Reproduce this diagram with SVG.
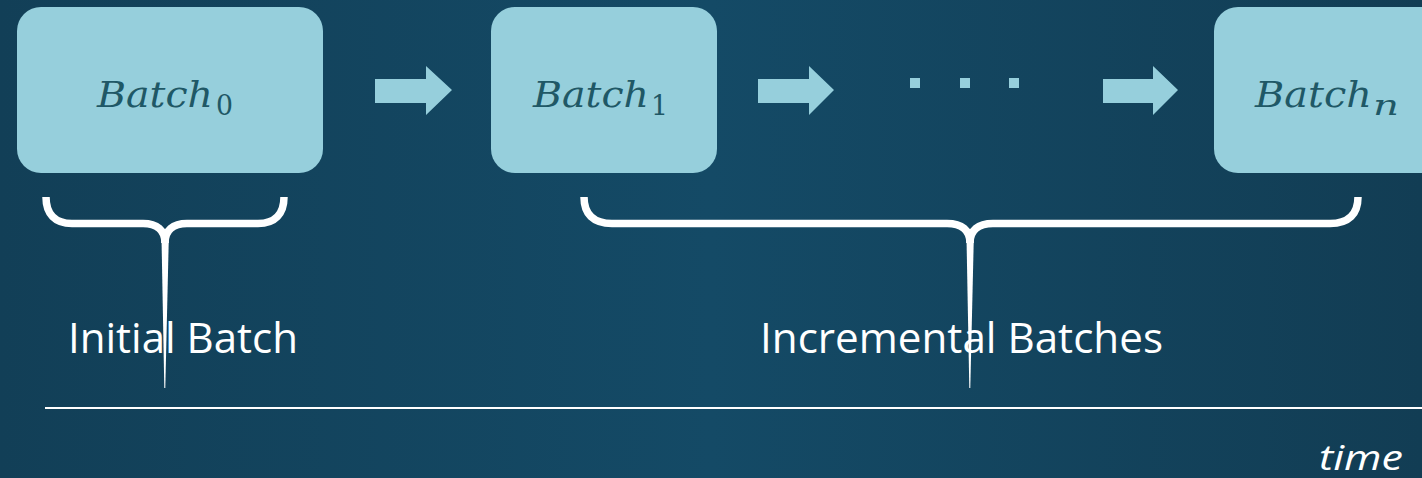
<svg xmlns="http://www.w3.org/2000/svg" width="1422" height="478" viewBox="0 0 1422 478">
<defs>
<linearGradient id="bg" x1="0" y1="0" x2="1" y2="0">
<stop offset="0" stop-color="#123f57"/>
<stop offset="0.5" stop-color="#144a66"/>
<stop offset="1" stop-color="#123d54"/>
</linearGradient>
<style>
.box{fill:#96cfdc;}
.bt{font-family:"DejaVu Serif",serif;font-style:italic;font-size:35px;fill:#1f5866;}
.sub{font-family:"DejaVu Serif",serif;font-style:normal;font-size:27px;fill:#1f5866;}
.subi{font-family:"DejaVu Serif",serif;font-style:italic;font-size:27px;fill:#1f5866;}
.arrow{fill:#96cfdc;}
.brace{fill:none;stroke:#ffffff;stroke-width:7.5;}
.stem{fill:#ffffff;}
.lbl{font-family:"Open Sans","Noto Sans",sans-serif;font-size:42px;fill:#ffffff;}
.time{font-family:"Open Sans","Noto Sans",sans-serif;font-style:italic;font-size:34px;fill:#ffffff;}
</style>
</defs>
<rect x="0" y="0" width="1422" height="478" fill="url(#bg)"/>

<g id="node-batch0">
<rect class="box" x="17" y="7" width="306" height="166" rx="24"/>
<text class="bt" x="97" y="107" textLength="116" lengthAdjust="spacingAndGlyphs">Batch</text>
<text class="sub" x="216" y="115" textLength="17" lengthAdjust="spacingAndGlyphs">0</text>
</g>
<g id="node-batch1">
<rect class="box" x="491" y="7" width="226" height="166" rx="24"/>
<text class="bt" x="533" y="107" textLength="116" lengthAdjust="spacingAndGlyphs">Batch</text>
<text class="sub" x="651" y="115" textLength="17" lengthAdjust="spacingAndGlyphs">1</text>
</g>
<g id="node-dots">
<rect class="arrow" x="910" y="78" width="10" height="10"/>
<rect class="arrow" x="960" y="78" width="10" height="10"/>
<rect class="arrow" x="1009" y="78" width="10" height="10"/>
</g>
<g id="node-batchn">
<rect class="box" x="1214" y="7" width="232" height="166" rx="24"/>
<text class="bt" x="1255" y="107" textLength="117" lengthAdjust="spacingAndGlyphs">Batch</text>
<text class="subi" x="1373" y="115" textLength="26" lengthAdjust="spacingAndGlyphs">n</text>
</g>

<g id="connectors">
<polygon class="arrow" points="375,79 426,79 426,66 452,90 426,115 426,103 375,103"/>
<polygon class="arrow" points="758,79 809,79 809,66 834,90 809,115 809,103 758,103"/>
<polygon class="arrow" points="1103,79 1153,79 1153,66 1178,90 1153,115 1153,103 1103,103"/>
</g>

<g id="label-initial">
<text class="lbl" x="68" y="353" textLength="230" lengthAdjust="spacingAndGlyphs">Initial Batch</text>
<path class="brace" d="M46,197 C46,214 55,223.5 72,223.5 L143,223.5 C157,223.5 165,230 165,243"/>
<path class="brace" d="M284,197 C284,214 275,223.5 258,223.5 L187,223.5 C173,223.5 165,230 165,243"/>
<path class="stem" d="M161.5,238 L168.8,238 L165.3,388 L164.3,388 Z"/>
</g>

<g id="label-incremental">
<text class="lbl" x="760" y="353" textLength="403" lengthAdjust="spacingAndGlyphs">Incremental Batches</text>
<path class="brace" d="M584,197 C584,214 593,223.5 612,223.5 L947,223.5 C962,223.5 970,230 970,243"/>
<path class="brace" d="M1358,197 C1358,214 1349,223.5 1330,223.5 L993,223.5 C978,223.5 970,230 970,243"/>
<path class="stem" d="M966.5,238 L973.8,238 L970.3,388 L969.3,388 Z"/>
</g>

<g id="timeline">
<line x1="45" y1="408" x2="1422" y2="408" stroke="#ffffff" stroke-width="2.2"/>
<text class="time" x="1319" y="470" textLength="84" lengthAdjust="spacingAndGlyphs">time</text>
</g>
</svg>
